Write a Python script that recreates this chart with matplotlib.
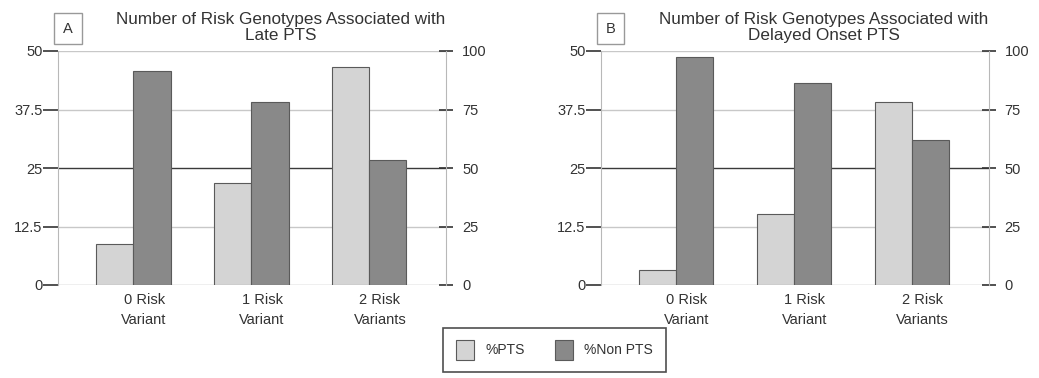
import numpy as np
import matplotlib.pyplot as plt
from matplotlib.patches import Patch

plt.rcParams['font.family'] = ['Liberation Sans', 'DejaVu Sans']

# data
categories = ['0 Risk\nVariant', '1 Risk\nVariant', '2 Risk\nVariants']
late_pts = [8.7, 21.7, 46.6]          # left axis (0-50)
late_non_pts = [91.3, 78.4, 53.4]     # right axis (0-100)
delayed_pts = [3.2, 15.2, 39.2]
delayed_non_pts = [97.6, 86.2, 61.8]
titles = ['Number of Risk Genotypes Associated with\nLate PTS',
          'Number of Risk Genotypes Associated with\nDelayed Onset PTS']
panel_labels = ['A', 'B']
left_ticks = [0, 12.5, 25, 37.5, 50]
right_ticks = [0, 25, 50, 75, 100]

light = '#d4d4d4'
dark = '#898989'
edge = '#5a5a5a'
txt = '#333333'

fig = plt.figure(figsize=(10.39, 3.78), dpi=100)
x = np.arange(len(categories))
w = 0.315

panels = [(late_pts, late_non_pts), (delayed_pts, delayed_non_pts)]
lefts = [58 / 1039, 600.7 / 1039]

for i, (pts, non_pts) in enumerate(panels):
    ax = fig.add_axes([lefts[i], 93 / 378, 388 / 1039, 234 / 378])
    ax2 = ax.twinx()

    # grid lines
    for yv in [12.5, 37.5, 50]:
        ax.axhline(yv, color='#c8c8c8', lw=1.0, zorder=0)
    ax.axhline(25, color='#3a3a3a', lw=1.0, zorder=0)
    ax.axhline(0, color='#b0b0b0', lw=1.0, zorder=0)

    ax.bar(x - w / 2, pts, w, color=light, edgecolor=edge, lw=0.8, zorder=2)
    ax2.bar(x + w / 2, non_pts, w, color=dark, edgecolor=edge, lw=0.8, zorder=2)

    ax.set_xlim(-0.64, 2.65)
    ax.set_ylim(0, 50)
    ax2.set_ylim(0, 100)
    ax.set_yticks(left_ticks)
    ax.set_yticklabels(['0', '12.5', '25', '37.5', '50'])
    ax2.set_yticks(right_ticks)

    ax.set_xticks(x + 0.09)
    ax.set_xticklabels(categories, fontsize=10.5, color=txt, linespacing=1.5)
    ax.tick_params(axis='x', length=0, pad=6)
    ax.tick_params(axis='y', direction='out', length=10.5, width=1.2,
                   color='#333333', labelsize=10.5, labelcolor=txt, pad=0.5)
    ax2.tick_params(axis='y', direction='inout', length=10, width=1.2,
                    color='#333333', labelsize=10.5, labelcolor=txt, pad=6.5)

    for a in (ax, ax2):
        for s in a.spines.values():
            s.set_visible(False)
    ax2.spines['left'].set_visible(True)
    ax2.spines['left'].set_color('#b8b8b8')
    ax2.spines['right'].set_visible(True)
    ax2.spines['right'].set_color('#b8b8b8')

    ax.text(0.575, 1.035, titles[i], transform=ax.transAxes, ha='center',
            va='bottom', fontsize=12.3, color=txt, linespacing=1.1)
    ax.text(0.026, 1.096, panel_labels[i], transform=ax.transAxes,
            ha='center', va='center', fontsize=10.5, color=txt,
            bbox=dict(boxstyle='square,pad=0.6', fc='white', ec='#999999', lw=1))

handles = [Patch(facecolor=light, edgecolor=edge, lw=0.8),
           Patch(facecolor=dark, edgecolor=edge, lw=0.8)]
leg = fig.legend(handles, ['%PTS', '%Non PTS'], loc='center',
                 bbox_to_anchor=(554.5 / 1039, 1 - 350 / 378), ncol=2,
                 fontsize=10, frameon=True, fancybox=False, edgecolor='#222222',
                 handlelength=1.3, handleheight=1.8, columnspacing=2.2,
                 borderpad=0.9, handletextpad=0.8)
leg.get_frame().set_linewidth(1.2)
for t in leg.get_texts():
    t.set_color(txt)

fig.savefig('out.png', dpi=100)
